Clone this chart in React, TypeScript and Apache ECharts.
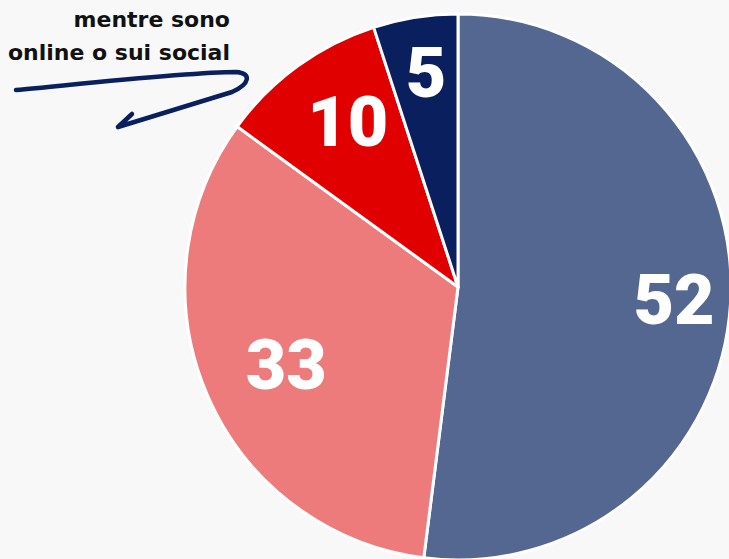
import React, { useEffect, useRef } from "react";
import * as echarts from "echarts";

const categories = ["A", "B", "C", "D"];
const values = [52, 33, 10, 5];
const colors = ["#536790", "#ed7b7b", "#e00000", "#0a1f5e"];
const labelNudges: number[][] = [[12, 0], [16, -3], [10, 0], [0, -12]];
const noteLines = ["mentre sono", "online o sui social"];

echarts.graphic.registerShape(
  "arrowNote",
  echarts.graphic.extendPath(
    "M16,90 C90,83 190,72 236,72 C252,73 250,84 232,92 L118,127 M118,127 L132,114",
    {}
  ) as any
);

export default function App() {
  const ref = useRef<HTMLDivElement>(null);
  useEffect(() => {
    if (!ref.current) return;
    const chart = echarts.init(ref.current, undefined, { renderer: "svg" });
    const data = categories.map((c, i) => ({
      name: c,
      value: values[i],
      itemStyle: { color: colors[i] },
    }));
    chart.setOption({
      animation: false,
      backgroundColor: "#f8f8f8",
      series: [
        {
          type: "pie",
          center: [458, 287],
          radius: [0, 273],
          startAngle: 90,
          clockwise: true,
          label: { show: false },
          labelLine: { show: false },
          itemStyle: { borderColor: "#ffffff", borderWidth: 3 },
          data,
          silent: true,
        },
        {
          type: "pie",
          center: [458, 287],
          radius: [130, 273],
          startAngle: 90,
          clockwise: true,
          silent: true,
          itemStyle: { color: "transparent", borderWidth: 0 },
          label: {
            show: true,
            position: "inside",
            formatter: "{c}",
            color: "#ffffff",
            fontFamily: "Roboto",
            fontWeight: 900,
            fontSize: 70,
          },
          labelLine: { show: false },
          data: categories.map((c, i) => ({
            name: c,
            value: values[i],
            label: { offset: labelNudges[i] },
          })),
        },
      ],
      graphic: [
        {
          type: "text",
          x: 230,
          y: 3,
          style: {
            text: noteLines.join("\n"),
            fill: "#111111",
            font: "bold 22px 'DejaVu Sans'",
            align: "right",
            verticalAlign: "top",
            lineHeight: 33,
          },
        },
        {
          type: "arrowNote",
          x: 0,
          y: 0,
          style: {
            fill: "none",
            stroke: "#0a1f5e",
            lineWidth: 4.5,
            lineCap: "round",
            lineJoin: "round",
          },
        },
      ],
    });
    return () => chart.dispose();
  }, []);
  return (
    <div
      ref={ref}
      style={{ position: "fixed", left: 0, top: 0, width: 729, height: 559 }}
    />
  );
}
